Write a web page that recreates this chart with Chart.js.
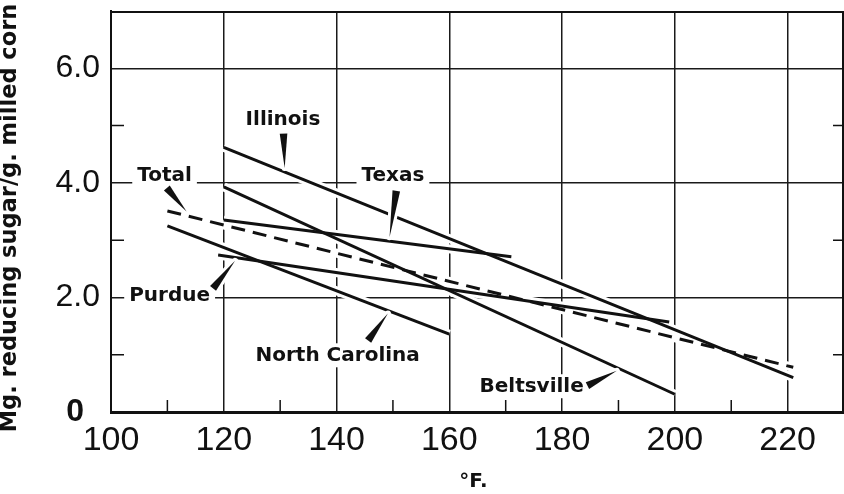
<!DOCTYPE html>
<html>
<head>
<meta charset="utf-8">
<script src="https://cdn.jsdelivr.net/npm/chart.js@4/dist/chart.umd.min.js"></script>
<style>
  html, body { margin: 0; padding: 0; background: #fff; }
  #wrap { width: 844px; height: 494px; }
</style>
</head>
<body>
<div id="wrap"><canvas id="c" width="844" height="494"></canvas></div>
<script>
// Fitted regression lines: reducing sugar (mg/g milled corn) against drying temperature (°F).
const illinoisF = [120, 221];
const illinoisSugar = [4.62, 0.60];
const texasF = [120, 171];
const texasSugar = [3.35, 2.71];
const beltsvilleF = [120, 200];
const beltsvilleSugar = [3.93, 0.31];
const purdueF = [119, 199];
const purdueSugar = [2.74, 1.57];
const northCarolinaF = [110, 160];
const northCarolinaSugar = [3.25, 1.36];
const totalF = [110, 221];
const totalSugar = [3.51, 0.78];

const xTickValues = [100, 120, 140, 160, 180, 200, 220];
const yTickLabels = ['0', '2.0', '4.0', '6.0'];
const xMinorTicks = [110, 130, 150, 170, 190, 210];
const yMinorTicks = [1, 3, 5];

const series = [
  { name: 'Illinois', xs: illinoisF, ys: illinoisSugar, dash: [] },
  { name: 'Texas', xs: texasF, ys: texasSugar, dash: [] },
  { name: 'Beltsville', xs: beltsvilleF, ys: beltsvilleSugar, dash: [] },
  { name: 'Purdue', xs: purdueF, ys: purdueSugar, dash: [] },
  { name: 'North Carolina', xs: northCarolinaF, ys: northCarolinaSugar, dash: [] },
  { name: 'Total', xs: totalF, ys: totalSugar, dash: [14, 8] }
];

const toPoints = (xs, ys) => xs.map((x, i) => ({ x, y: ys[i] }));

// White halos go underneath so the grid is broken where a line crosses it.
const haloSets = series.map(s => ({
  label: s.name + ' halo',
  data: toPoints(s.xs, s.ys),
  showLine: true, pointRadius: 0,
  borderColor: '#ffffff', borderWidth: 9,
  borderCapStyle: 'butt', order: 10
}));
const lineSets = series.map(s => ({
  label: s.name,
  data: toPoints(s.xs, s.ys),
  showLine: true, pointRadius: 0,
  borderColor: '#111111', borderWidth: 3,
  borderDash: s.dash, borderCapStyle: 'butt', order: 0
}));

// Line labels with pointer wedges (text centre, wedge base, wedge tip; data units).
const callouts = [
  { text: 'Illinois',       tx: 130.5, ty: 5.12, bx: 130.6, by: 4.86, px: 130.8, py: 4.26 },
  { text: 'Texas',          tx: 150.0, ty: 4.14, bx: 150.6, by: 3.86, px: 149.4, py: 3.05 },
  { text: 'Total',          tx: 109.5, ty: 4.14, bx: 109.9, by: 3.91, px: 113.4, py: 3.50 },
  { text: 'Purdue',         tx: 110.4, ty: 2.04, bx: 118.1, by: 2.16, px: 122.0, py: 2.64 },
  { text: 'North Carolina', tx: 140.2, ty: 0.99, bx: 145.6, by: 1.25, px: 149.1, py: 1.72 },
  { text: 'Beltsville',     tx: 174.6, ty: 0.45, bx: 184.5, by: 0.46, px: 189.7, py: 0.72 }
];

const labelFont = 'bold 20px "DejaVu Sans"';

const frameAndLabels = {
  id: 'frameAndLabels',
  beforeDatasetsDraw(chart) {
    const { ctx, scales: { x, y } } = chart;
    ctx.save();
    ctx.font = labelFont;
    ctx.fillStyle = '#ffffff';
    callouts.forEach(c => {
      const w = ctx.measureText(c.text).width;
      const cx = x.getPixelForValue(c.tx), cy = y.getPixelForValue(c.ty);
      ctx.fillRect(cx - w / 2 - 5, cy - 12, w + 10, 24);
    });
    ctx.restore();
  },
  afterDatasetsDraw(chart) {
    const { ctx, chartArea: a, scales: { x, y } } = chart;
    ctx.save();
    // top and right frame
    ctx.strokeStyle = '#111';
    ctx.lineWidth = 2;
    ctx.beginPath();
    ctx.moveTo(a.left, a.top + 1);
    ctx.lineTo(a.right - 1, a.top + 1);
    ctx.lineTo(a.right - 1, a.bottom);
    ctx.stroke();
    // minor ticks
    ctx.lineWidth = 1.5;
    ctx.beginPath();
    xMinorTicks.forEach(v => {
      const px = x.getPixelForValue(v);
      ctx.moveTo(px, a.bottom);
      ctx.lineTo(px, a.bottom - 12);
    });
    yMinorTicks.forEach(v => {
      const py = y.getPixelForValue(v);
      ctx.moveTo(a.left, py);
      ctx.lineTo(a.left + 13, py);
      ctx.moveTo(a.right, py);
      ctx.lineTo(a.right - 11, py);
    });
    ctx.stroke();
    // pointer wedges
    callouts.forEach(c => {
      const bx = x.getPixelForValue(c.bx), by = y.getPixelForValue(c.by);
      const tx = x.getPixelForValue(c.px), ty = y.getPixelForValue(c.py);
      const dx = tx - bx, dy = ty - by, len = Math.hypot(dx, dy);
      const nx = -dy / len * 3.8, ny = dx / len * 3.8;
      ctx.beginPath();
      ctx.moveTo(bx + nx, by + ny);
      ctx.lineTo(tx, ty);
      ctx.lineTo(bx - nx, by - ny);
      ctx.closePath();
      ctx.strokeStyle = '#fff';
      ctx.lineWidth = 6;
      ctx.lineJoin = 'round';
      ctx.stroke();
      ctx.fillStyle = '#111';
      ctx.fill();
    });
    // label text
    ctx.font = labelFont;
    ctx.fillStyle = '#111';
    ctx.textAlign = 'center';
    ctx.textBaseline = 'middle';
    callouts.forEach(c => {
      ctx.fillText(c.text, x.getPixelForValue(c.tx), y.getPixelForValue(c.ty) + 1);
    });
    // axis titles
    ctx.font = 'bold 20px "DejaVu Sans"';
    ctx.fillText('°F.', (a.left + a.right) / 2 - 4, 482);
    ctx.translate(10, 218);
    ctx.rotate(-Math.PI / 2);
    ctx.font = 'bold 22.5px "DejaVu Sans"';
    ctx.fillText('Mg. reducing sugar/g. milled corn', 0, 0);
    ctx.restore();
  }
};

new Chart(document.getElementById('c'), {
  type: 'scatter',
  data: { datasets: [...haloSets, ...lineSets] },
  plugins: [frameAndLabels],
  options: {
    responsive: false,
    animation: false,
    devicePixelRatio: 1,
    layout: { padding: { top: 11, right: 0, left: 0, bottom: 0 } },
    plugins: { legend: { display: false }, tooltip: { enabled: false } },
    scales: {
      x: {
        type: 'linear', min: 100, max: 230,
        afterFit: s => { s.height = 82; s.paddingLeft = 0; s.paddingRight = 0; },
        afterBuildTicks: s => { s.ticks = xTickValues.map(v => ({ value: v })); },
        ticks: {
          includeBounds: false, autoSkip: false, maxRotation: 0,
          padding: 8, color: '#111',
          font: { family: '"Liberation Sans"', size: 34 },
          callback: v => String(v)
        },
        grid: {
          drawTicks: false, lineWidth: 1.5,
          color: c => (c.tick && c.tick.value === 100) ? 'rgba(0,0,0,0)' : '#1a1a1a'
        },
        border: { color: '#111', width: 3 }
      },
      y: {
        type: 'linear', min: 0, max: 7,
        afterFit: s => { s.width = 111; s.paddingTop = 0; s.paddingBottom = 0; },
        afterBuildTicks: s => { s.ticks = yTickLabels.map((t, i) => ({ value: i * 2 })); },
        ticks: {
          includeBounds: false, autoSkip: false, padding: 11, color: '#111',
          font: c => ({ family: '"Liberation Sans"', size: 32, weight: (c.tick && c.tick.value === 0) ? 'bold' : 'normal' }),
          callback: (v, i) => yTickLabels[i] + (v === 0 ? '\u2002' : '')
        },
        grid: {
          drawTicks: false, lineWidth: 1.5,
          color: c => (c.tick && c.tick.value === 0) ? 'rgba(0,0,0,0)' : '#1a1a1a'
        },
        border: { color: '#111', width: 2 }
      }
    }
  }
});
</script>
</body>
</html>
